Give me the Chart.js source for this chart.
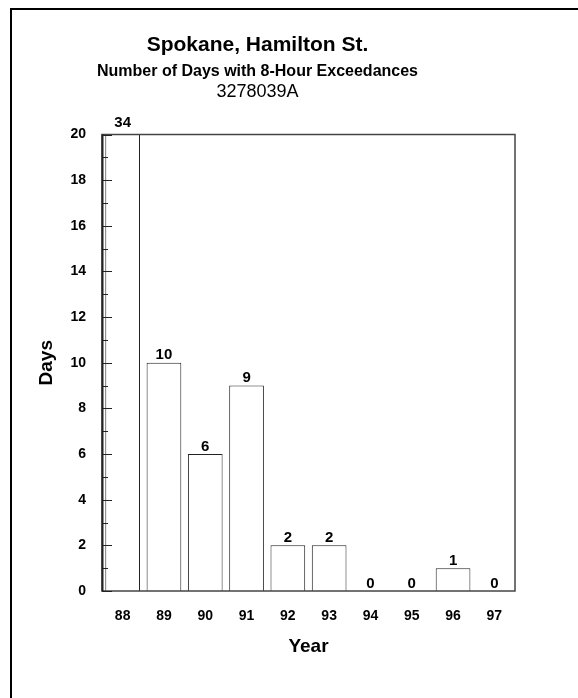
<!DOCTYPE html>
<html><head><meta charset="utf-8">
<script src="https://cdn.jsdelivr.net/npm/chart.js@4.4.1/dist/chart.umd.min.js"></script>
<style>html,body{margin:0;padding:0;background:#fff;}#wrap{width:578px;height:698px;}</style>
</head><body><div id="wrap"><canvas id="c" width="578" height="698"></canvas></div>
<script>
const years = ['88','89','90','91','92','93','94','95','96','97'];
const days = [34, 10, 6, 9, 2, 2, 0, 0, 1, 0];
const titleText = 'Spokane, Hamilton St.';
const subtitleText = 'Number of Days with 8-Hour Exceedances';
const siteId = '3278039A';
const xTitle = 'Year';
const yTitle = 'Days';
const yMin = 0, yMax = 20, yMajorStep = 2, yMinorStep = 1;

const FONT = "'Liberation Sans', Arial, Helvetica, sans-serif";

const decorPlugin = {
  id: 'decor',
  beforeDraw(chart) {
    const ctx = chart.ctx;
    ctx.save();
    ctx.fillStyle = '#fff';
    ctx.fillRect(0, 0, chart.width, chart.height);
    ctx.fillStyle = '#000';
    ctx.fillRect(10, 8, 2, chart.height - 8);
    ctx.fillRect(10, 8, chart.width - 10, 2);
    // site id line under subtitle
    ctx.font = "normal 18px " + FONT;
    ctx.textAlign = 'center';
    ctx.textBaseline = 'alphabetic';
    const cx = (chart.chartArea.left + chart.chartArea.right) / 2;
    const tcx = (0 + chart.chartArea.right) / 2;
    ctx.fillText(siteId, tcx, 96.5);
    ctx.restore();
  },
  afterDatasetsDraw(chart) {
    const ctx = chart.ctx;
    const a = chart.chartArea;
    const y = chart.scales.y;
    ctx.save();
    // plot frame
    ctx.strokeStyle = '#444';
    ctx.lineWidth = 1.5;
    ctx.strokeRect(a.left, a.top, a.right - a.left, a.bottom - a.top);
    ctx.fillStyle = '#222';
    ctx.fillRect(a.left - 0.5, a.top, 2, a.bottom - a.top);
    // inward ticks on y axis
    ctx.strokeStyle = '#222';
    ctx.lineWidth = 1;
    for (let v = yMin; v <= yMax; v += yMinorStep) {
      const py = Math.round(y.getPixelForValue(v)) + 0.5;
      const len = (v % yMajorStep === 0) ? 10 : 6;
      ctx.beginPath();
      ctx.moveTo(a.left, py);
      ctx.lineTo(a.left + len, py);
      ctx.stroke();
    }
    // value labels
    const meta = chart.getDatasetMeta(0);
    ctx.fillStyle = '#000';
    ctx.font = "bold 15px " + FONT;
    ctx.textAlign = 'center';
    ctx.textBaseline = 'middle';
    meta.data.forEach((el, i) => {
      const v = days[i];
      const top = Math.max(el.y, a.top);
      const off = v > yMax ? 12 : 7.5;
      ctx.fillText(String(v), el.x, top - off);
    });
    ctx.restore();
  }
};

new Chart(document.getElementById('c'), {
  type: 'bar',
  data: {
    labels: years,
    datasets: [{
      data: days,
      backgroundColor: '#fff',
      borderColor: '#222',
      borderWidth: 1,
      barPercentage: 0.84,
      categoryPercentage: 1.0
    }]
  },
  plugins: [decorPlugin],
  options: {
    responsive: false,
    animation: false,
    devicePixelRatio: 1,
    layout: { padding: { left: 0, right: 63, top: 0, bottom: 0 } },
    plugins: {
      legend: { display: false },
      tooltip: { enabled: false },
      title: {
        display: true,
        text: titleText,
        color: '#000',
        font: { family: FONT, size: 21, weight: 'bold', lineHeight: 1.2 },
        padding: { top: 33, bottom: 3.5 }
      },
      subtitle: {
        display: true,
        text: subtitleText,
        color: '#000',
        font: { family: FONT, size: 16, weight: 'bold', lineHeight: 1.2 },
        padding: { top: 0, bottom: 53.6 }
      }
    },
    scales: {
      x: {
        grid: { display: false, drawTicks: false },
        border: { display: false },
        ticks: { color: '#000', font: { family: FONT, size: 14, weight: 'bold' }, padding: 17, maxRotation: 0 },
        title: { display: true, text: xTitle, color: '#000', font: { family: FONT, size: 19, weight: 'bold', lineHeight: 1.2 }, padding: { top: 0, bottom: 40 } },
        afterFit(scale) { scale.height = 107; }
      },
      y: {
        min: yMin,
        max: yMax,
        grid: { display: false, drawTicks: false },
        border: { display: false },
        ticks: { stepSize: yMajorStep, color: '#000', font: { family: FONT, size: 14, weight: 'bold' }, padding: 16 },
        title: { display: true, text: yTitle, color: '#000', font: { family: FONT, size: 19, weight: 'bold', lineHeight: 1.2 }, padding: { top: 35, bottom: 0 } },
        afterFit(scale) { scale.width = 102; }
      }
    }
  }
});
</script>
</body></html>
